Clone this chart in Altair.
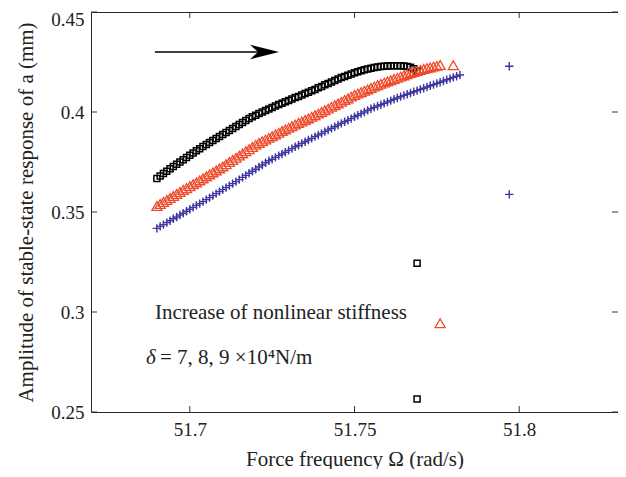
import altair as alt
import pandas as pd

# ---------------- data ----------------
freq = [
    51.690, 51.691, 51.692, 51.693, 51.694, 51.695, 51.696, 51.697, 51.698, 51.699,
    51.700, 51.701, 51.702, 51.703, 51.704, 51.705, 51.706, 51.707, 51.708, 51.709,
    51.710, 51.711, 51.712, 51.713, 51.714, 51.715, 51.716, 51.717, 51.718, 51.719,
    51.720, 51.721, 51.722, 51.723, 51.724, 51.725, 51.726, 51.727, 51.728, 51.729,
    51.730, 51.731, 51.732, 51.733, 51.734, 51.735, 51.736, 51.737, 51.738, 51.739,
    51.740, 51.741, 51.742, 51.743, 51.744, 51.745, 51.746, 51.747, 51.748, 51.749,
    51.750, 51.751, 51.752, 51.753, 51.754, 51.755, 51.756, 51.757, 51.758, 51.759,
    51.760, 51.761, 51.762, 51.763, 51.764, 51.765, 51.766, 51.767, 51.768, 51.769,
    51.770, 51.771, 51.772, 51.773, 51.774, 51.775, 51.776, 51.777, 51.778, 51.779,
    51.780, 51.781, 51.782,
]

amp_black = [
    0.3668, 0.3680, 0.3692, 0.3704, 0.3716, 0.3727, 0.3739, 0.3750, 0.3761, 0.3772,
    0.3784, 0.3795, 0.3806, 0.3816, 0.3827, 0.3837, 0.3847, 0.3857, 0.3867, 0.3877,
    0.3887, 0.3897, 0.3907, 0.3917, 0.3927, 0.3937, 0.3947, 0.3958, 0.3968, 0.3976,
    0.3984, 0.3992, 0.4000, 0.4008, 0.4015, 0.4023, 0.4030, 0.4037, 0.4044, 0.4051,
    0.4058, 0.4065, 0.4072, 0.4078, 0.4085, 0.4092, 0.4099, 0.4106, 0.4113, 0.4121,
    0.4128, 0.4136, 0.4143, 0.4150, 0.4158, 0.4165, 0.4172, 0.4178, 0.4184, 0.4190,
    0.4196, 0.4201, 0.4206, 0.4211, 0.4215, 0.4219, 0.4222, 0.4225, 0.4227, 0.4229,
    0.4230, 0.4231, 0.4231, 0.4231, 0.4231, 0.4230, 0.4228, 0.4224, 0.4216, 0.4205,
]

amp_red = [
    0.3530, 0.3540, 0.3550, 0.3560, 0.3570, 0.3580, 0.3590, 0.3600, 0.3610, 0.3619,
    0.3629, 0.3639, 0.3648, 0.3658, 0.3668, 0.3678, 0.3688, 0.3698, 0.3708, 0.3718,
    0.3728, 0.3739, 0.3750, 0.3760, 0.3771, 0.3782, 0.3793, 0.3804, 0.3814, 0.3825,
    0.3836, 0.3845, 0.3854, 0.3862, 0.3871, 0.3879, 0.3888, 0.3896, 0.3905, 0.3913,
    0.3921, 0.3929, 0.3937, 0.3945, 0.3952, 0.3960, 0.3968, 0.3976, 0.3984, 0.3992,
    0.4000, 0.4009, 0.4017, 0.4026, 0.4034, 0.4043, 0.4051, 0.4060, 0.4068, 0.4077,
    0.4085, 0.4092, 0.4099, 0.4106, 0.4113, 0.4120, 0.4127, 0.4134, 0.4141, 0.4147,
    0.4153, 0.4159, 0.4165, 0.4171, 0.4177, 0.4183, 0.4189, 0.4195, 0.4200, 0.4205,
    0.4210, 0.4215, 0.4219, 0.4223, 0.4227, 0.4231, 0.4235,
]

amp_blue = [
    0.3418, 0.3428, 0.3437, 0.3447, 0.3456, 0.3466, 0.3475, 0.3485, 0.3494, 0.3504,
    0.3514, 0.3523, 0.3533, 0.3542, 0.3552, 0.3562, 0.3572, 0.3582, 0.3592, 0.3602,
    0.3612, 0.3622, 0.3632, 0.3642, 0.3652, 0.3662, 0.3673, 0.3683, 0.3694, 0.3704,
    0.3714, 0.3725, 0.3735, 0.3746, 0.3756, 0.3764, 0.3773, 0.3782, 0.3790, 0.3799,
    0.3808, 0.3817, 0.3826, 0.3834, 0.3843, 0.3851, 0.3860, 0.3868, 0.3877, 0.3885,
    0.3893, 0.3902, 0.3910, 0.3918, 0.3926, 0.3935, 0.3943, 0.3951, 0.3959, 0.3967,
    0.3976, 0.3984, 0.3992, 0.4000, 0.4008, 0.4016, 0.4023, 0.4030, 0.4036, 0.4043,
    0.4050, 0.4057, 0.4064, 0.4070, 0.4077, 0.4083, 0.4089, 0.4095, 0.4101, 0.4107,
    0.4113, 0.4119, 0.4125, 0.4131, 0.4137, 0.4143, 0.4149, 0.4155, 0.4161, 0.4167,
    0.4173, 0.4179, 0.4185,
]

# isolated points (upper / lower branch)
iso_black_x = [51.769, 51.769]
iso_black_y = [0.3244, 0.2565]
iso_red_x = [51.780, 51.776]
iso_red_y = [0.4234, 0.2944]
iso_blue_x = [51.797, 51.797]
iso_blue_y = [0.4229, 0.3588]

x_ticks = [51.7, 51.75, 51.8]
y_ticks = [0.25, 0.3, 0.35, 0.4, 0.45]

# annotation anchors (data space)
arrow_x = [51.6894, 51.7240]
arrow_head_x = [51.7227]
arrow_y = [0.4300]
note1_pos = (51.6894, 0.2964)
note2_pos = (51.6867, 0.2740)
note1_text = "Increase of nonlinear stiffness"
note2_sym = "δ"
note2_text = "= 7, 8, 9 ×10⁴N/m"

X_TITLE = "Force frequency Ω (rad/s)"
Y_TITLE = "Amplitude of stable-state response of a (mm)"

# ---------------- chart ----------------
W, H = 527, 400
FONT = "Liberation Serif"
TXT = "#222222"
RED = "#EE4B2B"
BLUE = "#3D35A0"

xscale = alt.Scale(domain=[51.67, 51.83], nice=False, zero=False)
yscale = alt.Scale(domain=[0.25, 0.45], nice=False, zero=False)

xaxis = alt.Axis(values=x_ticks, format="~g", grid=False, ticks=False, tickSize=0,
                 domain=False, labelPadding=8, title=X_TITLE,
                 titleY=53, titleBaseline="alphabetic")
yaxis = alt.Axis(values=y_ticks, format="~g", grid=False, ticks=False, tickSize=0,
                 domain=False, labelPadding=7, title=Y_TITLE,
                 labelOffset={"condition": {"test": "datum.value >= 0.449", "value": 7},
                              "value": 0},
                 titleX=-59, titleY=H / 2, titleAngle=270, titleBaseline="alphabetic",
                 titleAlign="center")


def X():
    return alt.X("x:Q", scale=xscale, axis=xaxis, title=X_TITLE)


def Y():
    return alt.Y("y:Q", scale=yscale, axis=yaxis, title=Y_TITLE)


df_black = pd.DataFrame({"x": freq[:len(amp_black)] + iso_black_x,
                         "y": amp_black + iso_black_y})
df_red = pd.DataFrame({"x": freq[:len(amp_red)] + iso_red_x,
                       "y": amp_red + iso_red_y})
df_blue = pd.DataFrame({"x": freq[:len(amp_blue)] + iso_blue_x,
                        "y": amp_blue + iso_blue_y})

black = alt.Chart(df_black).mark_point(
    shape="square", filled=False, color="black", size=36, strokeWidth=1.5, opacity=1
).encode(x=X(), y=Y())

red = alt.Chart(df_red).mark_point(
    shape="triangle-up", filled=False, color=RED, size=100, strokeWidth=1.3, opacity=1
).encode(x=X(), y=Y())

blue = alt.Chart(df_blue).mark_point(
    shape="M-1,0L1,0M0,-1L0,1", filled=False, color=BLUE, size=70, strokeWidth=1.4,
    opacity=1
).encode(x=X(), y=Y())

df_arrow = pd.DataFrame({"x": [arrow_x[0]], "x2": [arrow_x[1]], "y": arrow_y})
arrow_line = alt.Chart(df_arrow).mark_rule(color="black", strokeWidth=1.5).encode(
    x=X(), x2="x2:Q", y=Y())
df_head = pd.DataFrame({"x": arrow_head_x, "y": arrow_y})
arrow_head = alt.Chart(df_head).mark_point(
    shape="M1,0L-1,-0.5L-0.45,0L-1,0.5Z", filled=True, color="black", size=841,
    opacity=1, strokeWidth=0
).encode(x=X(), y=Y())

df_n1 = pd.DataFrame({"x": [note1_pos[0]], "y": [note1_pos[1]], "t": [note1_text]})
note1 = alt.Chart(df_n1).mark_text(
    align="left", baseline="alphabetic", font=FONT, fontSize=21, color=TXT
).encode(x=X(), y=Y(), text="t:N")

df_n2a = pd.DataFrame({"x": [note2_pos[0]], "y": [note2_pos[1]], "t": [note2_sym]})
note2a = alt.Chart(df_n2a).mark_text(
    align="left", baseline="alphabetic", font=FONT, fontSize=21, fontStyle="italic",
    color=TXT
).encode(x=X(), y=Y(), text="t:N")
df_n2b = pd.DataFrame({"x": [note2_pos[0]], "y": [note2_pos[1]], "t": [note2_text]})
note2b = alt.Chart(df_n2b).mark_text(
    align="left", baseline="alphabetic", font=FONT, fontSize=21, color=TXT, dx=14
).encode(x=X(), y=Y(), text="t:N")

# inward tick marks on all four sides
df_xt = pd.DataFrame({"x": x_ticks})
df_yt = pd.DataFrame({"y": y_ticks})
TC = "#333333"
tick_bottom = alt.Chart(df_xt).mark_rule(color=TC, strokeWidth=1).encode(
    x=X(), y=alt.value(H), y2=alt.value(H - 6))
tick_top = alt.Chart(df_xt).mark_rule(color=TC, strokeWidth=1).encode(
    x=X(), y=alt.value(0), y2=alt.value(6))
tick_left = alt.Chart(df_yt).mark_rule(color=TC, strokeWidth=1).encode(
    y=Y(), x=alt.value(0), x2=alt.value(6))
tick_right = alt.Chart(df_yt).mark_rule(color=TC, strokeWidth=1).encode(
    y=Y(), x=alt.value(W), x2=alt.value(W - 6))

chart = alt.layer(
    black, red, blue, arrow_line, arrow_head, note1, note2a, note2b,
    tick_bottom, tick_top, tick_left, tick_right
).properties(
    width=W, height=H,
    autosize=alt.AutoSizeParams(type="none"),
    padding={"left": 83, "top": 4, "right": 0, "bottom": 57},
    background="white",
).configure_view(
    stroke="#262626", strokeWidth=1
).configure_axis(
    labelFont=FONT, labelFontSize=19, labelColor=TXT,
    titleFont=FONT, titleFontSize=21, titleFontWeight="normal", titleColor=TXT
)

chart.save("out.html", embed_options={"renderer": "svg", "actions": False})
